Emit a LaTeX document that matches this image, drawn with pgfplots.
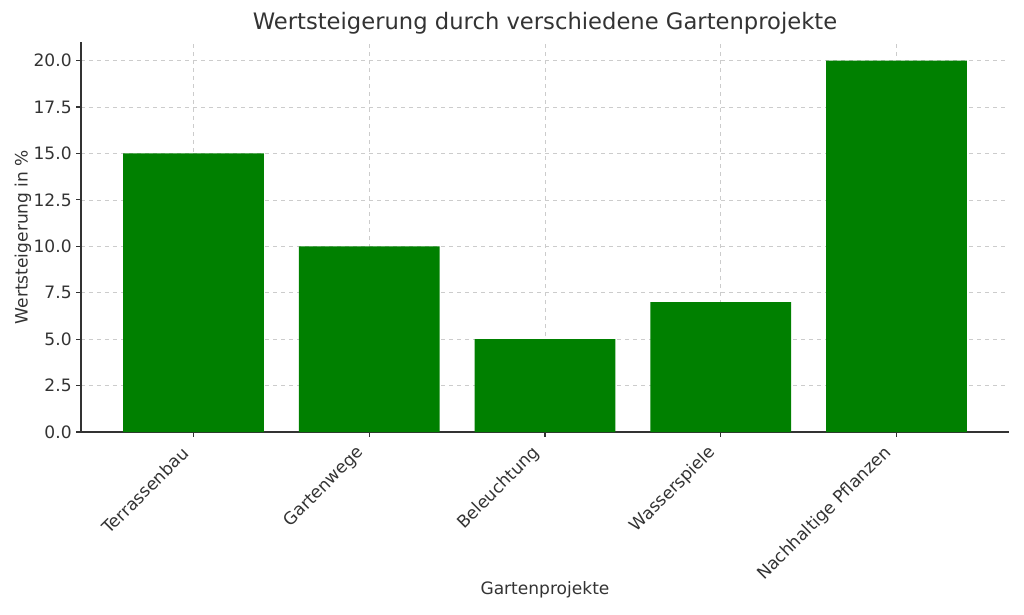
\documentclass[border=0pt]{standalone}
\usepackage{pgfplots}
\pgfplotsset{compat=1.18}
\usepackage{fontspec}
\setmainfont{DejaVu Sans}
\definecolor{txt}{HTML}{333333}
\definecolor{bargreen}{RGB}{0,128,0}
\begin{document}
\begin{tikzpicture}
\begin{axis}[
  name=ax,
  at={(0,0)}, anchor=south west,
  width=696pt, height=292.5pt, scale only axis,
  xmin=-0.64, xmax=4.64, ymin=0, ymax=21,
  axis x line*=bottom, axis y line*=left,
  axis line style={-, txt, line width=0.9pt},
  tick align=outside, tick pos=left,
  major tick length=3.5pt,
  tick style={txt, line width=0.8pt},
  xtick={0,1,2,3,4},
  xticklabels={Terrassenbau,Gartenwege,Beleuchtung,Wasserspiele,Nachhaltige Pflanzen},
  xticklabel style={xshift=-6pt, yshift=-10pt, rotate=45, anchor=east, inner sep=0pt,
    font=\fontsize{12.8}{15}\selectfont, text=txt},
  ytick={0,2.5,...,20},
  yticklabel style={font=\fontsize{12.8}{15}\selectfont, text=txt,
    /pgf/number format/.cd, fixed, fixed zerofill, precision=1},
  /pgf/number format/assume math mode=true,
  grid=major,
  grid style={dashed, gray!40, line width=0.4pt},
  title={Wertsteigerung durch verschiedene Gartenprojekte},
  title style={font=\fontsize{17}{20}\selectfont, text=txt, yshift=-4pt},
  xlabel={Gartenprojekte},
  ylabel={Wertsteigerung in \%},
  xlabel shift=-5pt,
  ylabel shift=-5pt,
  label style={font=\fontsize{12.8}{15}\selectfont, text=txt},
  ybar, bar width=0.8, bar shift=0pt,
]
\addplot[fill=bargreen, draw=none] coordinates {(0,15) (1,10) (2,5) (3,7) (4,20)};
\end{axis}
\useasboundingbox (-60.75pt,-136.5pt) rectangle (707.25pt,324pt);
\end{tikzpicture}
\end{document}
